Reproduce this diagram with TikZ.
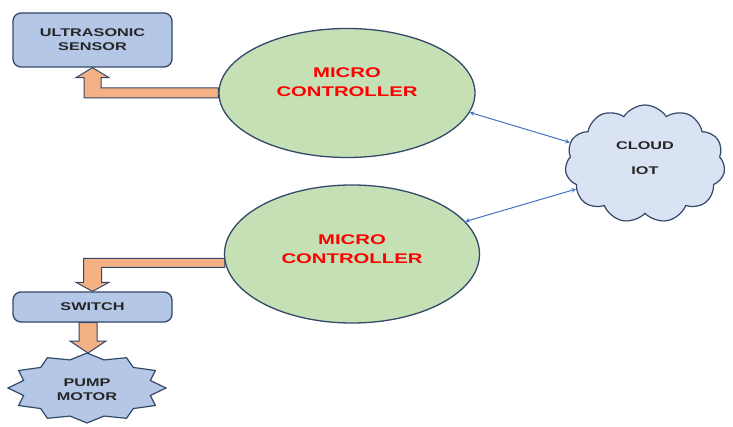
\documentclass[tikz,border=0pt]{standalone}
\usepackage{fontspec}
\newfontfamily\blockfont[FakeStretch=1.45]{Liberation Sans}
\usetikzlibrary{shapes.geometric,shapes.symbols,calc,backgrounds}

\definecolor{boxblue}{RGB}{180,199,231}
\definecolor{cloudblue}{RGB}{218,227,243}
\definecolor{mcgreen}{RGB}{197,224,180}
\definecolor{edgeblue}{RGB}{52,72,105}
\definecolor{arroworange}{RGB}{244,177,131}
\definecolor{linkblue}{RGB}{68,114,196}
\definecolor{labelgray}{RGB}{38,38,38}

\tikzset{
  blocktext/.style={align=center, text=labelgray,
    font=\blockfont\bfseries\fontsize{11.2}{14}\selectfont},
  block/.style={blocktext, draw=edgeblue, fill=boxblue, line width=1.3pt,
    rounded corners=8pt, minimum width=159pt, inner sep=0pt},
  mcu/.style={ellipse, draw=edgeblue, fill=mcgreen, line width=1.3pt, inner sep=0pt},
  mctext/.style={align=center, text=red,
    font=\blockfont\bfseries\fontsize{14}{19}\selectfont},
  fatarrow/.style={fill=arroworange, draw=edgeblue, line width=1pt, line join=miter},
  link/.style={<->, >=stealth, draw=linkblue, line width=1pt},
}

\begin{document}
\begin{tikzpicture}[x=1pt, y=1pt]
  \useasboundingbox (0,0) rectangle (733,426);

  % sensing side
  \node[block, minimum height=54pt] (sensor) at (92.5,386) {ULTRASONIC\\SENSOR};
  \node[mcu, minimum width=256pt, minimum height=129pt] (mc1) at (347,333) {};
  \node[mctext] (mc1txt) at ($(mc1)+(0,11)$) {MICRO\\CONTROLLER};

  % actuating side
  \node[mcu, minimum width=255pt, minimum height=138pt] (mc2) at (352,172) {};
  \node[mctext] (mc2txt) at ($(mc2)+(0,5)$) {MICRO\\CONTROLLER};
  \node[block, minimum height=30pt] (switch) at (92.5,119) {SWITCH};

  % pump: 12 point star
  \coordinate (pumpc) at (87,38);
  \draw[draw=edgeblue, fill=boxblue, line width=1.2pt, shift={(pumpc)}]
    (90:79 and 35)
    \foreach \a [evaluate=\a as \r using {1-0.17*mod(\a,2)}] in {1,...,23}
      { -- ({90+15*\a}:{79*\r} and {35*\r}) } -- cycle;
  \node[blocktext] (pump) at ($(pumpc)+(0,-2)$) {PUMP\\MOTOR};
  \coordinate (pumptop) at (88,73);

  % cloud
  \node[cloud, cloud puffs=11, cloud puff arc=115, aspect=1.36,
        draw=edgeblue, fill=cloudblue, line width=1.2pt,
        minimum width=160pt, minimum height=118pt] (cloud) at (645,262) {};
  \node[blocktext] (cloudtxt) at ($(cloud)+(0,6)$) {CLOUD\\[11pt]IOT};

  \draw[link] (mc1.-9) -- (cloud.164);
  \draw[link] (mc2.16) -- (cloud.200);

  % bent block arrows
  \coordinate (bend1) at (sensor.south |- mc1.west);
  \coordinate (tap2) at (mc2.184);
  \coordinate (bend2) at (switch.north |- tap2);
  \begin{scope}[on background layer]
    \draw[fatarrow] ($(mc1.west)+(0,5)$) -- ($(bend1)+(8.5,5)$)
      -- ($(sensor.south)+(8.5,-10)$) -- ($(sensor.south)+(16.5,-10)$)
      -- (sensor.south) -- ($(sensor.south)+(-16.5,-10)$)
      -- ($(sensor.south)+(-8.5,-10)$) -- ($(bend1)+(-8.5,-5)$)
      -- ($(mc1.west)+(0,-5)$) -- cycle;
    \draw[fatarrow] ($(tap2)+(0,4.5)$) -- ($(bend2)+(-9,4.5)$)
      -- ($(switch.north)+(-9,9)$) -- ($(switch.north)+(-16.5,9)$)
      -- (switch.north) -- ($(switch.north)+(16.5,9)$)
      -- ($(switch.north)+(9,9)$) -- ($(bend2)+(9,-4.5)$)
      -- ($(tap2)+(0,-4.5)$) -- cycle;
    \draw[fatarrow] ($(switch.south -| pumptop)+(-9,0)$) -- ($(pumptop)+(-9,12)$)
      -- ($(pumptop)+(-18,12)$) -- (pumptop) -- ($(pumptop)+(18,12)$)
      -- ($(pumptop)+(9,12)$) -- ($(switch.south -| pumptop)+(9,0)$) -- cycle;
  \end{scope}
\end{tikzpicture}
\end{document}
